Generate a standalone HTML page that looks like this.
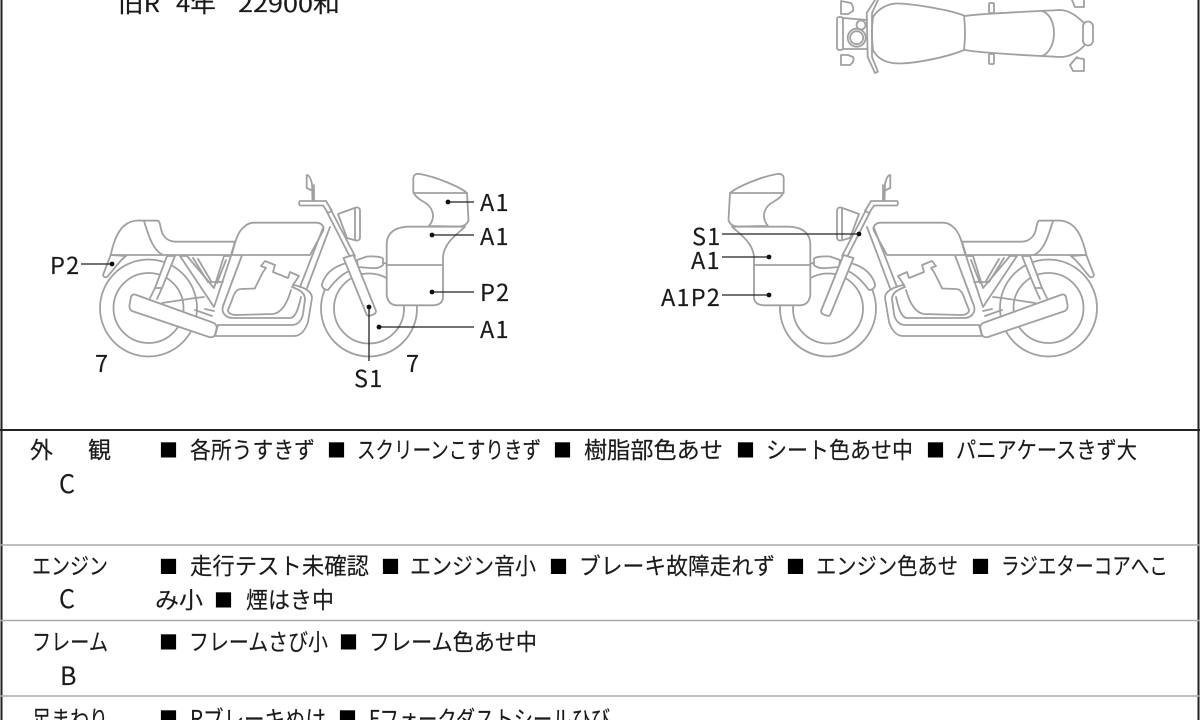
<!DOCTYPE html>
<html lang="ja"><head><meta charset="utf-8"><style>
html,body{margin:0;padding:0;background:#fff;width:1200px;height:720px;overflow:hidden}
svg{display:block}
text{font-family:"Liberation Sans","Noto Sans CJK JP",sans-serif;fill:#1a1a1a;font-size:23px}
.j{font-family:"Noto Sans CJK JP",sans-serif;font-size:23px;stroke:#1a1a1a;stroke-width:.15}
.l{font-family:"Noto Sans CJK JP",sans-serif;font-size:23.5px;letter-spacing:1.2px;stroke:#1a1a1a;stroke-width:.15}
.s{font-family:"Noto Sans CJK JP",sans-serif;font-size:19px;fill:#000}
.b{stroke:#a0a0a0;stroke-width:1.8;fill:none;stroke-linecap:round;stroke-linejoin:round}
.f{fill:#fff}
.ld{stroke:#222;stroke-width:1.3;fill:none}
</style></head><body>
<svg width="1200" height="720" viewBox="0 0 1200 720" xmlns="http://www.w3.org/2000/svg">
<defs>
<g id="bike" class="b">
<circle cx="148.5" cy="308" r="48.5"/><circle cx="148.5" cy="308" r="35"/>
<circle cx="369" cy="308.5" r="48"/><circle cx="369" cy="308.5" r="35"/>
<!-- tail and seat -->
<path class="f" d="M110.7 255C115 235 122 221 138 220.5L158 220.7C161 222 160 232 164 236C168 241 172 241.7 178 241.7L235 241.7L231 255L110.7 255Z"/>
<path d="M144 221C148 233 152 250 163 255"/>
<path class="f" d="M110.7 255L103 275Q104 278 107 277C112 272 118 262 126 256Z"/>
<!-- tank -->
<path class="f" d="M231.7 255C235 242 238 231 244 227C247 224 250 222.7 254 222.7L316 222.7C321 222.7 325 226 323 231L310 255Z"/>
<!-- shock -->
<path class="f" d="M167 256L155 288L162 288L175 256Z"/><path d="M155 288L150 298M162 288L157 299"/>
<!-- frame triangle -->
<path class="f" d="M180 256L214 307L231 256L224 256L214 288L187 256Z"/>
<path d="M193 258L208 282L223 282M198 259L211 281M226 260L217 283"/>
<!-- swingarm -->
<path d="M162 303L195 298L204 297M195 310L212 316M205 309L214 311"/>
<!-- loops -->
<path d="M241.7 256L223 306C221 313 226 318 233 318L290 318C296 318 299 306 301 297"/>
<path d="M255 288L263 272L266 268L261 266L265 261L275 265L273 272L288 278L290 272L299 276L293 285"/>
<path d="M255 288.5L241 289C236 289 234 294 232 300L228 310C228 313 231 315 236 315L273 314C281 313 287 304 291 290"/>
<path class="f" d="M218 325L292 325C298 325 302 320 303 314L305 299C305 293 300 290 292 287L294 285C303 287 312 291 312 298L308 322C305 331 300 336 294 336L215 336Z"/>
<!-- muffler -->
<path class="f" d="M135 294.5L214 323Q217 325 216.7 328L215 335Q213 338 209 337L132 311Q129 309 129.5 305L131 297Q132 294 135 294.5Z"/>
<!-- down tube -->
<path d="M323 228L300 287M330 227L307 288"/>
<!-- mirror -->
<path d="M306.7 175Q310 175 312 184L312.5 200M306.7 175L306.7 188L311 190M314 185L314 201"/>
<!-- handlebar -->
<path class="f" d="M300 201L326 201L332 211L328 213L323 205.5L300 205.5Q298 203 300 201Z"/>
<path d="M327 212L350 257M331 210L355 256"/>
<!-- headlight -->
<path class="f" d="M338 214L356 207.5Q360 207 360 211L360 237Q360 241 356 240.5L347 238Z"/><path d="M355 208L355 240"/>
<!-- fender -->
<path class="f" d="M321.7 285C326 270 338 265 350 262L352 270C345 272 337 278 328 290Q323 290 321.7 285Z"/>
<path class="f" d="M357 260L367 256.5C375 256 383 257 383 259L383 265C380 268 376 268.5 370 268L358 267Z"/>
<!-- fork lower -->
<path class="f" d="M343.5 258L353.5 255L376 311Q376 314 372 315L369 316Q367 316 366 313Z"/>
<!-- top pannier -->
<path class="f" d="M413.3 191.7L413.3 178Q414 173 420 174C437 177 460 187 467 193L468.5 220Q467 225.7 460 226.5L429 226C437 216 432 206 423 201.5Q415 197 413.3 191.7Z"/>
<path d="M413.3 193L467 193"/>
<!-- main pannier -->
<path class="f" d="M465 226.7L407 226.7Q388 228 386.7 243L386.7 295Q388 305 397 305.3L433 305.3Q442 305 443 298L443 257C444 243 456 235 465 226.7Z"/>
<path d="M386.7 265L443 265"/>
</g>
</defs>
<rect width="1200" height="720" fill="#fff"/>

<!-- frame -->
<path d="M1.5 0V720M1198.5 0V720" stroke="#222" stroke-width="2" fill="none"/>
<path d="M0 430H1200" stroke="#222" stroke-width="2"/>
<path d="M0 545H1200M0 620.5H1200M0 696H1200" stroke="#aaa" stroke-width="1.5"/>

<!-- top text -->
<text class="j" x="118" y="12" textLength="42" lengthAdjust="spacingAndGlyphs">旧R</text>
<text class="j" x="176" y="12" textLength="40" lengthAdjust="spacingAndGlyphs">4年</text>
<text class="j" x="238" y="12" textLength="102" lengthAdjust="spacingAndGlyphs">22900和</text>

<!-- top view -->
<g class="b">
<path d="M873 17C878 9 888 3 898 3.5C915 4 950 10 964 15.5Q966 33 964 50C950 56 920 63 900 63.5C888 63.5 878 60 873 50Q871 33 873 17Z"/>
<path d="M965 16C975 14 1020 12 1060 10C1068 10 1076 15 1084 23M965 50C975 52 1020 55 1060 57C1068 57 1076 54 1084 46"/>
<path d="M1042 11C1058 16 1058 50 1042 56"/>
<rect x="1083" y="21.5" width="10" height="24" rx="5"/>
<rect x="989" y="3" width="5" height="10" rx="1"/><rect x="989" y="54" width="5" height="10" rx="1"/>
<path d="M1072 0L1075 7L1084 7L1084 0M1077 57L1070 65L1073 71L1084 71L1084 59L1077 58"/>
<path d="M841 1L851 3Q854 7 853 11L848 14L841 14ZM841 55L848 55L853 57Q855 61 850 65L841 65Z"/>
<rect x="837" y="17" width="6" height="33" rx="2"/>
<path d="M843 18L867 20M843 49L867 49"/>
<circle cx="856.7" cy="37.7" r="9"/><circle cx="856.7" cy="37.7" r="6.5"/><circle cx="861" cy="25" r="4.5"/>
<path d="M866.7 13L875 0M866.7 13L867.7 57L875 73L878 71.7L872 57L872 13L878 0"/>
</g>

<use href="#bike"/>
<g transform="translate(1197,0) scale(-1,1)"><use href="#bike"/></g>

<!-- leaders left -->
<path class="ld" d="M448 202H474M432 235H474M432 292H474M379 327H474M369 307V361M81 264H112"/>
<g fill="#111"><circle cx="448" cy="202" r="2.4"/><circle cx="432" cy="235" r="2.4"/><circle cx="432" cy="292" r="2.4"/><circle cx="379" cy="327" r="2.4"/><circle cx="369" cy="307" r="2.4"/><circle cx="112" cy="264" r="2.4"/></g>
<text class="l" x="480" y="211">A1</text><text class="l" x="480" y="245">A1</text><text class="l" x="480" y="301">P2</text><text class="l" x="480" y="338">A1</text>
<text class="l" x="50" y="274">P2</text><text class="l" x="354" y="387">S1</text><text class="l" x="95" y="372">7</text><text class="l" x="406" y="372">7</text>

<!-- leaders right -->
<path class="ld" d="M722 234H859M722 257H769M722 295H769"/>
<g fill="#111"><circle cx="859" cy="234" r="2.4"/><circle cx="769" cy="257" r="2.4"/><circle cx="769" cy="295" r="2.4"/></g>
<text class="l" x="692" y="245">S1</text><text class="l" x="691" y="269">A1</text><text class="l" x="661" y="306">A1P2</text>

<!-- table -->
<text class="j" x="30" y="458">外</text><text class="j" x="88" y="458">観</text><text class="j" x="59" y="493" style="font-size:25px">C</text>
<text class="s" x="159" y="457">■</text>
<text class="j" x="190" y="458" textLength="125" lengthAdjust="spacingAndGlyphs">各所うすきず</text>
<text class="s" x="327" y="457">■</text>
<text class="j" x="357" y="458" textLength="184" lengthAdjust="spacingAndGlyphs">スクリーンこすりきず</text>
<text class="s" x="553" y="457">■</text>
<text class="j" x="584" y="458" textLength="139" lengthAdjust="spacingAndGlyphs">樹脂部色あせ</text>
<text class="s" x="736" y="457">■</text>
<text class="j" x="766" y="458" textLength="147" lengthAdjust="spacingAndGlyphs">シート色あせ中</text>
<text class="s" x="926" y="457">■</text>
<text class="j" x="956" y="458" textLength="181" lengthAdjust="spacingAndGlyphs">パニアケースきず大</text>

<text class="j" x="32" y="574" textLength="76" lengthAdjust="spacingAndGlyphs">エンジン</text><text class="j" x="59" y="608" style="font-size:25px">C</text>
<text class="s" x="159" y="573.5">■</text>
<text class="j" x="190" y="574" textLength="179" lengthAdjust="spacingAndGlyphs">走行テスト未確認</text>
<text class="s" x="381" y="573.5">■</text>
<text class="j" x="410" y="574" textLength="126" lengthAdjust="spacingAndGlyphs">エンジン音小</text>
<text class="s" x="549" y="573.5">■</text>
<text class="j" x="579" y="574" textLength="196" lengthAdjust="spacingAndGlyphs">ブレーキ故障走れず</text>
<text class="s" x="786" y="573.5">■</text>
<text class="j" x="816" y="574" textLength="142" lengthAdjust="spacingAndGlyphs">エンジン色あせ</text>
<text class="s" x="971" y="573.5">■</text>
<text class="j" x="1001" y="574" textLength="167" lengthAdjust="spacingAndGlyphs">ラジエターコアへこ</text>
<text class="j" x="155" y="608" textLength="48" lengthAdjust="spacingAndGlyphs">み小</text>
<text class="s" x="214" y="607">■</text>
<text class="j" x="246" y="608" textLength="88" lengthAdjust="spacingAndGlyphs">煙はき中</text>

<text class="j" x="32" y="650" textLength="76" lengthAdjust="spacingAndGlyphs">フレーム</text><text class="j" x="60" y="685" style="font-size:25px">B</text>
<text class="s" x="159" y="649">■</text>
<text class="j" x="189" y="650" textLength="139" lengthAdjust="spacingAndGlyphs">フレームさび小</text>
<text class="s" x="339" y="649">■</text>
<text class="j" x="369" y="650" textLength="168" lengthAdjust="spacingAndGlyphs">フレーム色あせ中</text>

<text class="j" x="32" y="727" textLength="76" lengthAdjust="spacingAndGlyphs">足まわり</text>
<text class="s" x="159" y="725">■</text>
<text class="j" x="190" y="727" textLength="136" lengthAdjust="spacingAndGlyphs">Rブレーキぬけ</text>
<text class="s" x="338" y="725">■</text>
<text class="j" x="369" y="727" textLength="241" lengthAdjust="spacingAndGlyphs">Fフォークダストシールひび</text>
</svg>
</body></html>
